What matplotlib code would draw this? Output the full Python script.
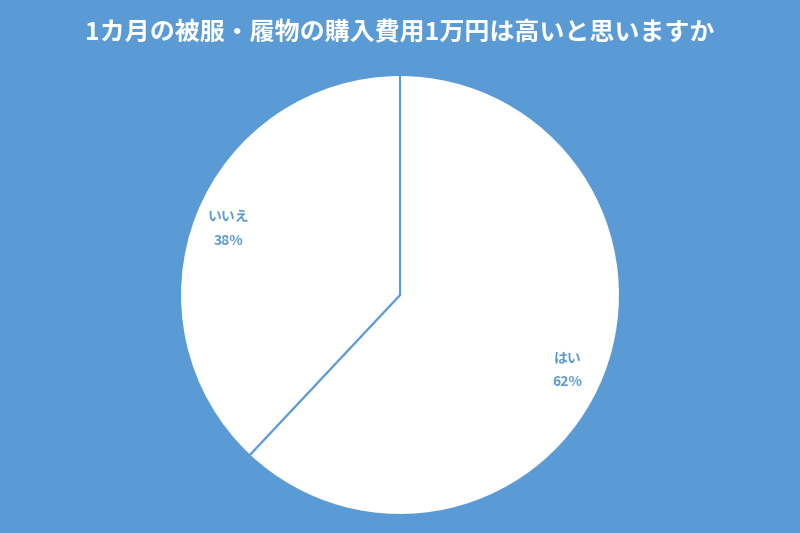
import matplotlib
matplotlib.use("Agg")
import matplotlib.pyplot as plt

plt.rcParams["font.family"] = ["Noto Sans CJK JP", "DejaVu Sans"]

title = "1カ月の被服・履物の購入費用1万円は高いと思いますか"
labels = ["はい", "いいえ"]
shares = [62, 38]

blue = "#5B9BD5"

fig = plt.figure(figsize=(8, 5.33), dpi=100, facecolor=blue)
# pie centre ~ (400, 295) px, radius ~220 px
ax = fig.add_axes([(400 - 220) / 800, (533 - 295 - 220) / 533, 440 / 800, 440 / 533])
ax.set_facecolor(blue)

wedges, _ = ax.pie(
    shares,
    startangle=90,
    counterclock=False,
    colors=["white", "white"],
    wedgeprops=dict(edgecolor=blue, linewidth=1.5),
)
ax.set_aspect("equal")
ax.set_xlim(-1, 1)
ax.set_ylim(-1, 1)

label_pos = [(0.76, -0.34), (-0.78, 0.30)]
for lab, val, (x, y) in zip(labels, shares, label_pos):
    ax.text(x, y, f"{lab}\n{val}%", ha="center", va="center", color=blue,
            fontsize=10, fontweight="bold", linespacing=1.9)

fig.text(0.5, 1 - 33 / 533, title, ha="center", va="center", color="white",
         fontsize=18, fontweight="bold")

fig.savefig("out.png", dpi=100, facecolor=blue)
